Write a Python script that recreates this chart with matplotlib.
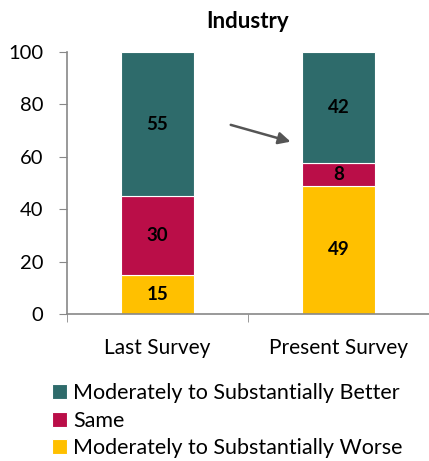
import matplotlib.pyplot as plt
import numpy as np

plt.rcParams['font.family'] = ['Lato', 'DejaVu Sans']

categories = ['Last Survey', 'Present Survey']
worse = [15, 49]
same = [30, 8.5]
better = [55, 42.5]
series_names = ['Moderately to Substantially Worse', 'Same',
                'Moderately to Substantially Better']
colors = ['#FFC000', '#BA0E48', '#2E6B6B']

fig = plt.figure(figsize=(4.29, 4.61), dpi=100)
ax = fig.add_axes([0.156, 0.319, 0.844, 0.568])

x = np.arange(len(categories))
bottom = np.zeros(len(categories))
handles = []
for vals, name, c in zip([worse, same, better], series_names, colors):
    bars = ax.bar(x, vals, 0.4, bottom=bottom, color=c, edgecolor='white',
                  linewidth=0.8, label=name)
    for xi, b, v in zip(x, bottom, vals):
        ax.text(xi, b + v / 2, f'{v:.0f}', ha='center', va='center',
                fontsize=13.5, fontweight='bold', color='black')
    bottom += vals
    handles.append(bars)

ax.set_xlim(-0.5, 1.5)
ax.set_ylim(0, 100)
ax.set_yticks([0, 20, 40, 60, 80, 100])
ax.set_xticks([0, 1])
ax.set_xticklabels(categories)
ax.set_xticks([-0.5, 0.5], minor=True)
ax.tick_params(axis='x', which='major', length=0, pad=17, labelsize=15)
ax.tick_params(axis='x', which='minor', length=6, color='#888888')
ax.tick_params(axis='y', length=6, color='#888888', labelsize=14.5, pad=11)
for s in ['top', 'right']:
    ax.spines[s].set_visible(False)
for s in ['left', 'bottom']:
    ax.spines[s].set_color('#888888')
    ax.spines[s].set_linewidth(1.2)

ax.set_title('Industry', fontsize=16, fontweight='bold', pad=17)

ax.annotate('', xy=(0.75, 65.5), xytext=(0.39, 72.5),
            arrowprops=dict(arrowstyle='-|>', color='#555555', lw=1.8,
                            mutation_scale=18))

leg = fig.legend(handles[::-1], series_names[::-1], loc='lower left',
                 bbox_to_anchor=(0.1, -0.012), frameon=False, fontsize=15.5,
                 handlelength=0.7, handleheight=0.7, handletextpad=0.3,
                 labelspacing=0.34, borderaxespad=0)

fig.savefig('out.png', dpi=100)
